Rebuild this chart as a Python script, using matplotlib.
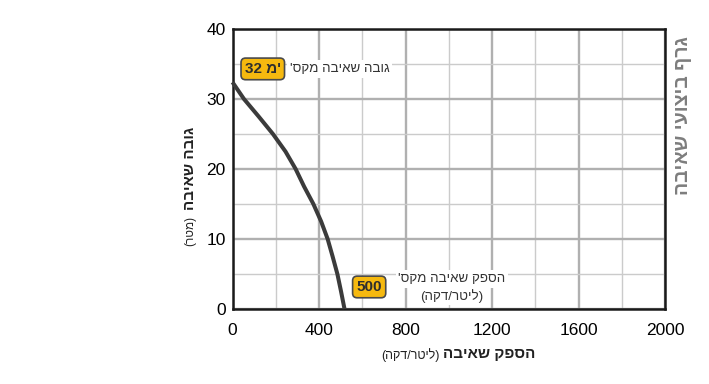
import numpy as np
import matplotlib
matplotlib.use("Agg")
from matplotlib import pyplot as plt
from matplotlib.ticker import MultipleLocator

plt.rcParams['font.family'] = ['Liberation Sans', 'DejaVu Sans']

# pump curve (flow l/min, head m)
flow = [0, 53, 121, 187, 245, 292, 331, 374, 410, 440, 463, 485, 502, 518]
head = [32.4, 30, 27.5, 25, 22.5, 20, 17.5, 15, 12.5, 10, 7.5, 5, 2.5, 0]

x_ticks = [0, 400, 800, 1200, 1600, 2000]
y_ticks = [0, 10, 20, 30, 40]

max_head_label = "32 מ'"
max_flow_label = "500"
max_head_text = "גובה שאיבה מקס'"
max_flow_text = "הספק שאיבה מקס'"
flow_unit = "(ליטר/דקה)"
x_title = "הספק שאיבה"
y_title = "גובה שאיבה"
y_unit = "(מטר)"
chart_title = "גרף ביצועי שאיבה"


def rtl(s):
    # matplotlib has no bidi support, so lay hebrew out visually
    return s[::-1].translate(str.maketrans('()', ')('))


fig = plt.figure(figsize=(7.09, 3.84), dpi=100)
ax = fig.add_axes([232.5 / 709, (384 - 309) / 384, 432.5 / 709, 280 / 384])

ax.set_xlim(0, 2000)
ax.set_ylim(0, 40)
ax.xaxis.set_minor_locator(MultipleLocator(200))
ax.yaxis.set_minor_locator(MultipleLocator(5))
ax.set_xticks(x_ticks)
ax.set_yticks(y_ticks)
ax.grid(which='major', color='#b0b0b0', lw=1.7, zorder=0)
ax.grid(which='minor', color='#cbcbcb', lw=1.0, zorder=0)
ax.tick_params(which='both', length=0, labelsize=12.5, colors='black')
ax.tick_params(axis='x', pad=10)
ax.tick_params(axis='y', pad=5)
for sp in ax.spines.values():
    sp.set_linewidth(1.8)
    sp.set_color('#1a1a1a')

ax.plot(flow, head, color='#3b3b3b', lw=2.9, solid_capstyle='butt',
        solid_joinstyle='round', zorder=3, clip_on=False)

badge = dict(boxstyle='round,pad=0.25,rounding_size=0.3', fc='#f6b90f',
             ec='#4a4a4a', lw=1.2)
white = dict(boxstyle='square,pad=0.2', fc='white', ec='none')

ax.text(140, 34.3, max_head_label, ha='center', va='center', fontsize=11,
        fontweight='bold', color='#2e2e2e', bbox=badge, zorder=5)
ax.text(265, 34.3, rtl(max_head_text), ha='left', va='center', fontsize=9.6,
        color='#333333', bbox=white, zorder=4)

ax.text(632, 3.15, max_flow_label, ha='center', va='center', fontsize=11,
        fontweight='bold', color='#2e2e2e', bbox=badge, zorder=5)
ax.text(1015, 4.3, rtl(max_flow_text), ha='center', va='center', fontsize=9.6,
        color='#333333', bbox=white, zorder=4)
ax.text(1015, 1.9, rtl(flow_unit), ha='center', va='center', fontsize=9.6,
        color='#333333', bbox=white, zorder=4)

# axis titles
fig.text(489 / 709, 1 - 354 / 384, rtl(x_title), ha='center', va='center',
         fontsize=11, fontweight='bold', color='#222222')
fig.text(410 / 709, 1 - 355 / 384, rtl(flow_unit), ha='center', va='center',
         fontsize=9, color='#222222')
fig.text(190 / 709, 1 - 168 / 384, rtl(y_title), ha='center', va='center',
         rotation=90, fontsize=11, fontweight='bold', color='#222222')
fig.text(190 / 709, 1 - 231 / 384, rtl(y_unit), ha='center', va='center',
         rotation=90, fontsize=8.5, color='#222222')

fig.text(683 / 709, 1 - 116 / 384, rtl(chart_title), ha='center', va='center',
         rotation=90, fontsize=14, fontweight='bold', color='#7d7d7d')

fig.savefig('out.png', dpi=100)
